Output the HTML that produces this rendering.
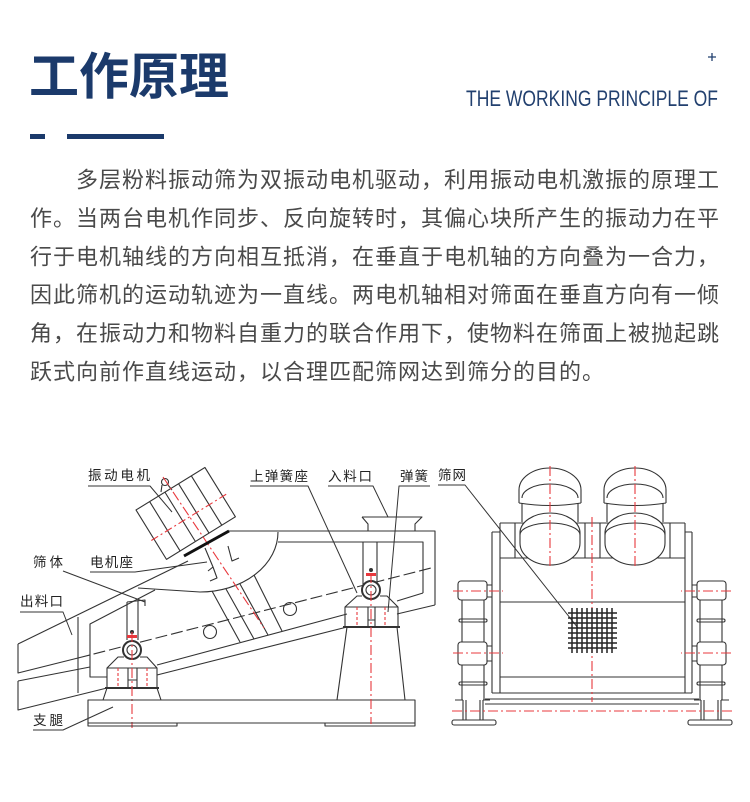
<!DOCTYPE html>
<html><head><meta charset="utf-8">
<style>
html,body{margin:0;padding:0;background:#fff;}
body{width:750px;height:802px;position:relative;overflow:hidden;}
svg{position:absolute;left:0;top:0;}
.cj{font-family:"Liberation Sans","Noto Sans CJK SC",sans-serif;}
</style></head>
<body>
<svg width="750" height="802" viewBox="0 0 750 802" xmlns="http://www.w3.org/2000/svg">
<!-- header -->
<text class="cj" x="29" y="94" font-size="50" font-weight="bold" fill="#1b3a6b">工作原理</text>
<text x="466" y="106" font-family="'Liberation Sans',sans-serif" font-size="22" fill="#22406f" textLength="252" lengthAdjust="spacingAndGlyphs">THE WORKING PRINCIPLE OF</text>
<path d="M708,57 H716 M712,53 V61" stroke="#22406f" stroke-width="1.3"/>
<rect x="30" y="134" width="15" height="5" fill="#1b3a6b"/>
<rect x="67" y="134" width="97" height="5" fill="#1b3a6b"/>

<!-- paragraph -->
<g class="cj" font-size="22" fill="#4a4a4a">
<text x="76" y="187.5" textLength="643" lengthAdjust="spacing">多层粉料振动筛为双振动电机驱动，利用振动电机激振的原理工</text>
<text x="30" y="225.9" textLength="689" lengthAdjust="spacing">作。当两台电机作同步、反向旋转时，其偏心块所产生的振动力在平</text>
<text x="30" y="264.3" textLength="689" lengthAdjust="spacing">行于电机轴线的方向相互抵消，在垂直于电机轴的方向叠为一合力，</text>
<text x="30" y="302.7" textLength="689" lengthAdjust="spacing">因此筛机的运动轨迹为一直线。两电机轴相对筛面在垂直方向有一倾</text>
<text x="30" y="341.1" textLength="689" lengthAdjust="spacing">角，在振动力和物料自重力的联合作用下，使物料在筛面上被抛起跳</text>
<text x="30" y="379.5" textLength="574" lengthAdjust="spacing">跃式向前作直线运动，以合理匹配筛网达到筛分的目的。</text>
</g>

<!-- LEFT DIAGRAM -->
<g fill="none" stroke="#333" stroke-width="1.1" stroke-linejoin="round">
  <path d="M18,644 L188,561"/>
  <path d="M228,531 H435 V605"/>
  <path d="M278,542 H423 V593"/>
  <path d="M278,532 A78,60 0 0 1 200,592 L138,588"/>
  <path d="M107,677 H90 V624 L155,590"/>
  <path d="M78,617 V693"/>
  <path d="M18,644 V673 L78,658"/>
  <path d="M78,658 L435,567" stroke-dasharray="12 4"/>
  <path d="M18,681 V710 L107,688"/>
  <path d="M18,681 L90,667"/>
  <path d="M157,675 L347,627 M397,614 L435,605"/>
  <path d="M157,665 L347,614 M397,601 L423,593"/>
  <path d="M212,591 L240,642 M226,589 L254,639 M240,584 L268,635 M254,575 L282,631"/>
  <circle cx="210" cy="632" r="6.5"/>
  <circle cx="290" cy="609" r="6.5"/>

  <!-- motor -->
  <g transform="translate(136,510) rotate(-31.7)">
    <rect x="0" y="0" width="81" height="58" fill="#fff"/>
    <path d="M16,0 V58 M34,0 V58 M50,0 V58 M65,0 V58"/>
    <path d="M-3,34 H88" stroke="#e8383d" stroke-dasharray="8 3 2 3"/>
  </g>
  <circle cx="165" cy="482" r="3.5"/>
  <path d="M162,485 L161,492 M168,485 L172,490"/>
  <path d="M163,477 L264,628" stroke="#e8383d" stroke-dasharray="10 3 2 3"/>
  <path d="M184,556 L229,531" stroke-width="3" stroke="#111"/>
  <path d="M205,548 L213,567 L208,571 M213,567 L217,578 L210,581 M228,546 L232,561 L239,558"/>

  <!-- left spring seat -->
  <path d="M127,602 V640 M138,600 V640 M127,602 L145,600 V606"/>
  <path d="M107,688 V668 L118,657 H124 M140,657 H147 L157,668 V688 M107,668 H157"/>
  <path d="M128,668 V688 M137,668 V688 M128,680 H137"/>
  <path d="M118,668 V688 M147,668 V688" stroke="#e8383d" stroke-dasharray="3 2"/>
  <path d="M105,688 H159" stroke-width="2"/>
  <path d="M107,688 L103,700 M157,688 L161,700"/>
  <circle cx="132" cy="650" r="9" stroke-width="2" fill="#fff"/>
  <circle cx="132" cy="650" r="5"/>
  <rect x="127" y="635" width="10" height="3" fill="#e8383d" stroke="none"/>
  <circle cx="132" cy="632" r="2" fill="#333" stroke="none"/>
  <path d="M132,632 V728" stroke="#e8383d" stroke-dasharray="10 3 2 3"/>

  <!-- right spring seat -->
  <path d="M363,542 V585 M377,542 V585"/>
  <path d="M345,627 V607 L357,596 H362 M380,596 H387 L398,607 V627 M345,607 H398"/>
  <path d="M343,627 H400" stroke-width="2"/>
  <path d="M368,607 V627 M375,607 V627 M368,620 H375"/>
  <path d="M357,607 V627 M385,607 V627" stroke="#e8383d" stroke-dasharray="3 2"/>
  <path d="M347,627 L337,700 M397,627 L405,700"/>
  <circle cx="371" cy="590" r="9" stroke-width="2" fill="#fff"/>
  <circle cx="371" cy="590" r="5"/>
  <rect x="366" y="573" width="10" height="3" fill="#e8383d" stroke="none"/>
  <circle cx="371" cy="570" r="2" fill="#333" stroke="none"/>

  <!-- base -->
  <rect x="88" y="700" width="327" height="23"/>
  <path d="M88,723 V726 H177 V723 M325,723 V726 H415 V723"/>
  <path d="M371,573 V724" stroke="#e8383d" stroke-dasharray="10 3 2 3"/>

  <!-- hopper -->
  <path d="M362,517 H422 L415,524 V531 M362,517 L368,524 V531"/>

  <!-- leaders -->
  <g stroke-width="1">
    <path d="M88,486 H150 L172,512"/>
    <path d="M250,486 H308 L357,593"/>
    <path d="M328,486 H373 L388,517"/>
    <path d="M430,486 H399 L388,612"/>
    <path d="M438,485 H465 L578,628"/>
    <path d="M63,571 L145,602"/>
    <path d="M90,572 H135 L207,562"/>
    <path d="M20,612 H63 L72,635"/>
    <path d="M33,730 H63 L113,707"/>
  </g>
</g>

<!-- labels -->
<g class="cj" font-size="13.5" fill="#222">
  <text x="88" y="480" textLength="62" lengthAdjust="spacing">振动电机</text>
  <text x="250" y="481" textLength="58" lengthAdjust="spacing">上弹簧座</text>
  <text x="328" y="481" textLength="44" lengthAdjust="spacing">入料口</text>
  <text x="400" y="481" textLength="28" lengthAdjust="spacing">弹簧</text>
  <text x="438" y="480" textLength="28" lengthAdjust="spacing">筛网</text>
  <text x="33" y="567" textLength="30" lengthAdjust="spacing">筛体</text>
  <text x="90" y="567" textLength="43" lengthAdjust="spacing">电机座</text>
  <text x="20" y="606" textLength="43" lengthAdjust="spacing">出料口</text>
  <text x="33" y="725" textLength="30" lengthAdjust="spacing">支腿</text>
</g>

<!-- RIGHT DIAGRAM -->
<g fill="none" stroke="#333" stroke-width="1.1" stroke-linejoin="round">
  <path d="M492,532 H500 M685,532 H692 M492,532 V693 M692,532 V693 M500,523 V693 M685,523 V693 M500,523 H685 M500,558 H685 M500,602 H685 M500,677 H685 M492,693 H692"/>
  <path d="M515,523 V558 M585,523 V558 M600,523 V558 M670,523 V558"/>
  <path d="M485,699 H699 M485,704 H699"/>

  <g>
    <rect x="458" y="581" width="29" height="19" rx="3" fill="#fff"/>
    <rect x="458" y="642" width="29" height="23" rx="3" fill="#fff"/>
    <path d="M462,600 V642 M484,600 V642 M462,665 V700 M484,665 V700"/>
    <rect x="459" y="619" width="28" height="3" rx="1.5"/>
    <rect x="459" y="682" width="28" height="3" rx="1.5"/>
    <path d="M487,585 H492 M487,597 H492 M487,646 H492 M487,661 H492"/>
    <path d="M463,700 V720 M466,700 V720 M480,700 V720 M483,700 V720 M455,700 H463 M483,700 H490"/>
    <rect x="452" y="720" width="44" height="5" rx="2"/>
    <path d="M453,591 H503 M453,653 H503" stroke="#e8383d" stroke-dasharray="10 3 2 3"/>
  </g>
  <g transform="translate(1184,0) scale(-1,1)">
    <rect x="458" y="581" width="29" height="19" rx="3" fill="#fff"/>
    <rect x="458" y="642" width="29" height="23" rx="3" fill="#fff"/>
    <path d="M462,600 V642 M484,600 V642 M462,665 V700 M484,665 V700"/>
    <rect x="459" y="619" width="28" height="3" rx="1.5"/>
    <rect x="459" y="682" width="28" height="3" rx="1.5"/>
    <path d="M487,585 H492 M487,597 H492 M487,646 H492 M487,661 H492"/>
    <path d="M463,700 V720 M466,700 V720 M480,700 V720 M483,700 V720 M455,700 H463 M483,700 H490"/>
    <rect x="452" y="720" width="44" height="5" rx="2"/>
    <path d="M453,591 H503 M453,653 H503" stroke="#e8383d" stroke-dasharray="10 3 2 3"/>
  </g>

  <g transform="translate(550,0)">
    <path d="M-31,503 V490 A31,22 0 0 1 31,490 V503" fill="#fff"/>
    <path d="M-28,498 A28,14 0 0 1 28,498"/>
    <path d="M-31,503 Q0,508 31,503"/>
    <path d="M-28,503 V522 M28,503 V522"/>
    <path d="M-30,533 A30,20 0 0 1 30,533 V543 A30,22 0 0 1 -30,543 Z" fill="#fff"/>
    <path d="M-30,535 A30,12 0 0 1 30,535"/>
  </g>
  <g transform="translate(635,0)">
    <path d="M-31,503 V490 A31,22 0 0 1 31,490 V503" fill="#fff"/>
    <path d="M-28,498 A28,14 0 0 1 28,498"/>
    <path d="M-31,503 Q0,508 31,503"/>
    <path d="M-28,503 V522 M28,503 V522"/>
    <path d="M-30,533 A30,20 0 0 1 30,533 V543 A30,22 0 0 1 -30,543 Z" fill="#fff"/>
    <path d="M-30,535 A30,12 0 0 1 30,535"/>
  </g>

  <g stroke="#e8383d" stroke-dasharray="10 3 2 3">
    <path d="M550,466 V568 M635,466 V568 M592,517 V702 M452,711 H732"/>
  </g>

  <path stroke="#222" stroke-width="1.5" d="M572,608 V653 M577,608 V653 M582,608 V653 M587,608 V653 M592,608 V653 M597,608 V653 M602,608 V653 M607,608 V653 M612,608 V653 M568,613 H617 M568,618 H617 M568,623 H617 M568,628 H617 M568,633 H617 M568,638 H617 M568,643 H617 M568,648 H617"/>
</g>
</svg>
</body></html>
